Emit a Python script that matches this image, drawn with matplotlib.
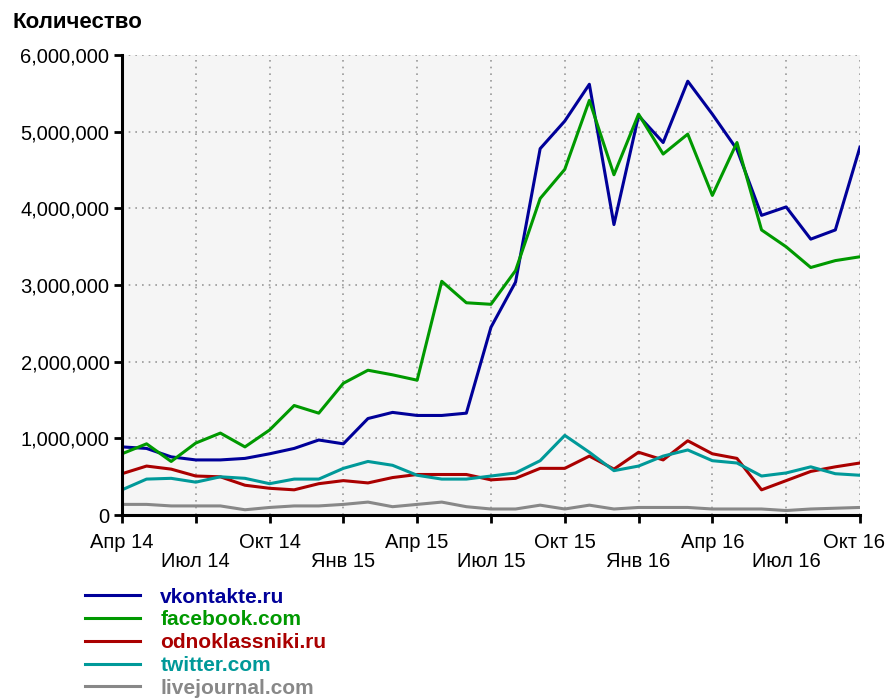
import numpy as np
import matplotlib
matplotlib.use("Agg")
import matplotlib.pyplot as plt
from matplotlib.ticker import FuncFormatter

plt.rcParams['font.family'] = ['Liberation Sans', 'DejaVu Sans']

# Месяцы: Апр 14 ... Окт 16
meses = np.arange(31)
tick_pos = np.arange(0, 31, 3)
tick_labels = ["Апр 14", "Июл 14", "Окт 14", "Янв 15", "Апр 15", "Июл 15",
               "Окт 15", "Янв 16", "Апр 16", "Июл 16", "Окт 16"]

vkontakte = [0.89, 0.87, 0.76, 0.72, 0.72, 0.74, 0.80, 0.87, 0.98, 0.93,
             1.26, 1.34, 1.30, 1.30, 1.33, 2.45, 3.04, 4.78, 5.14, 5.62,
             3.79, 5.21, 4.86, 5.66, 5.23, 4.77, 3.91, 4.02, 3.60, 3.72, 4.80]
facebook = [0.80, 0.93, 0.70, 0.94, 1.07, 0.89, 1.11, 1.43, 1.33, 1.72,
            1.89, 1.83, 1.76, 3.05, 2.77, 2.75, 3.19, 4.13, 4.51, 5.41,
            4.44, 5.23, 4.71, 4.97, 4.17, 4.86, 3.72, 3.50, 3.23, 3.32, 3.37]
odnoklassniki = [0.54, 0.64, 0.60, 0.51, 0.50, 0.39, 0.35, 0.33, 0.41, 0.45,
                 0.42, 0.49, 0.53, 0.53, 0.53, 0.46, 0.48, 0.61, 0.61, 0.77,
                 0.60, 0.82, 0.72, 0.97, 0.80, 0.74, 0.33, 0.45, 0.57, 0.63, 0.68]
twitter = [0.33, 0.47, 0.48, 0.43, 0.50, 0.48, 0.41, 0.47, 0.47, 0.61,
           0.70, 0.65, 0.52, 0.47, 0.47, 0.51, 0.55, 0.71, 1.04, 0.82,
           0.58, 0.64, 0.77, 0.85, 0.71, 0.68, 0.51, 0.55, 0.63, 0.54, 0.52]
livejournal = [0.14, 0.14, 0.12, 0.12, 0.12, 0.07, 0.10, 0.12, 0.12, 0.14,
               0.17, 0.11, 0.14, 0.17, 0.11, 0.08, 0.08, 0.13, 0.08, 0.13,
               0.08, 0.10, 0.10, 0.10, 0.08, 0.08, 0.08, 0.06, 0.08, 0.09, 0.10]

series = [
    ("vkontakte.ru", vkontakte, "#000099"),
    ("facebook.com", facebook, "#009900"),
    ("odnoklassniki.ru", odnoklassniki, "#aa0000"),
    ("twitter.com", twitter, "#009999"),
    ("livejournal.com", livejournal, "#888888"),
]

fig = plt.figure(figsize=(8.87, 6.98), dpi=100)
ax = fig.add_axes([0.1375, 0.262, 0.832, 0.659])
ax.set_facecolor("#f5f5f5")

for nombre, vals, color in series:
    ax.plot(meses, np.array(vals) * 1e6, color=color, lw=2.2, label=nombre)

ax.set_xlim(0, 30)
ax.set_ylim(0, 6e6)
ax.set_yticks(np.arange(0, 6.1e6, 1e6))
ax.yaxis.set_major_formatter(FuncFormatter(lambda v, p: f"{int(v):,}"))
ax.set_xticks(tick_pos)
# la última etiqueta se dibuja aparte, algo a la izquierda, para que no se corte
ax.set_xticklabels(tick_labels[:-1] + [""])
for i, lab in enumerate(ax.get_xticklabels()):
    if i % 2 == 1:
        lab.set_y(-0.041)
ax.annotate(tick_labels[-1], xy=(tick_pos[-1], 0), xycoords=("data", "axes fraction"),
            xytext=(-4.5, -13), textcoords="offset points",
            ha="center", va="top", fontsize=14.5)

ax.grid(True, linestyle=(0, (1, 3)), color="#999999", lw=1.2)
for s in ["top", "right"]:
    ax.spines[s].set_visible(False)
for s in ["left", "bottom"]:
    ax.spines[s].set_linewidth(2.2)
ax.tick_params(axis="both", length=6, width=2)
ax.tick_params(axis="y", labelsize=14.5, pad=3)
ax.tick_params(axis="x", labelsize=14.5, pad=7)

fig.text(0.014, 0.953, "Количество", fontsize=16, fontweight="bold", ha="left", va="bottom")

leg = fig.legend(loc="upper left", bbox_to_anchor=(0.075, 0.185), frameon=False,
                 handlelength=2.64, handletextpad=0.96, labelspacing=0.18,
                 labelcolor="linecolor", prop={"weight": "bold", "size": 15})

fig.savefig("out.png", dpi=100)
